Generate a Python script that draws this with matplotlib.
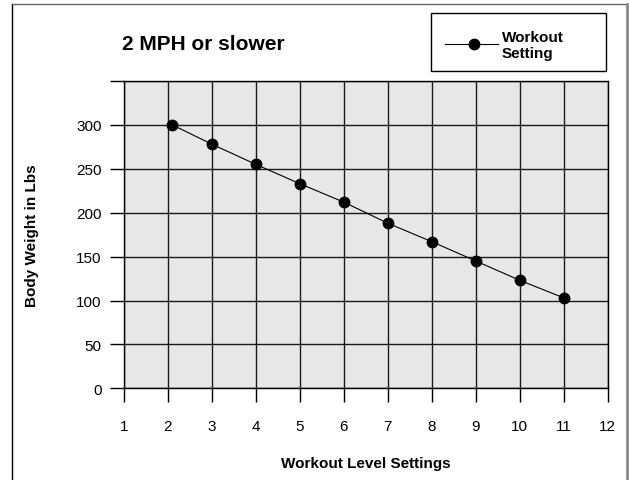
import matplotlib.pyplot as plt
from matplotlib.lines import Line2D
from matplotlib.patches import Rectangle

plt.rcParams['font.family'] = ['Liberation Sans', 'DejaVu Sans']

levels = [2.1, 3, 4, 5, 6, 7, 8, 9, 10, 11]
weights = [300, 278, 255, 233, 212, 188, 167, 145, 123, 103]
x_ticks = list(range(1, 13))
y_ticks = [0, 50, 100, 150, 200, 250, 300, 350]
y_labels = ['0', '50', '100', '150', '200', '250', '300', '']

W, H = 629, 481
fig = plt.figure(figsize=(W / 100, H / 100), dpi=100)
ax = fig.add_axes([124 / W, 1 - 389.3 / H, (607.7 - 124) / W, (389.3 - 82) / H])
ax.set_facecolor('#e6e7e8')

ax.plot(levels, weights, color='black', lw=0.8, marker='o', markersize=7.5, zorder=3)

ax.set_xlim(1, 12)
ax.set_ylim(0, 350)
ax.set_xticks(x_ticks)
ax.set_yticks(y_ticks)
ax.set_yticklabels(y_labels)
ax.grid(True, color='#1a1a1a', lw=1)
ax.set_axisbelow(True)
ax.tick_params(axis='y', length=10, width=1, pad=6, labelsize=11, direction='out')
ax.tick_params(axis='x', length=10, width=1, pad=12, labelsize=11, direction='out')
for s in ax.spines.values():
    s.set_color('black')
    s.set_linewidth(1)

ax.set_xlabel('Workout Level Settings', fontweight='bold', fontsize=11, labelpad=17)
ax.set_ylabel('Body Weight in Lbs', fontweight='bold', fontsize=11, labelpad=27)

# title
fig.text(122 / W, 1 - 45 / H, '2 MPH or slower', fontsize=15, fontweight='bold',
         ha='left', va='center')

# legend box
fig.add_artist(Rectangle((431 / W, 1 - 72 / H), (606 - 431) / W, (72 - 14) / H,
                         transform=fig.transFigure, fill=False, ec='black', lw=1))
fig.add_artist(Line2D([445 / W, 498 / W], [1 - 45 / H, 1 - 45 / H], color='black', lw=0.8,
                      transform=fig.transFigure))
fig.add_artist(Line2D([474 / W], [1 - 45 / H], marker='o', markersize=7.5, color='black',
                      transform=fig.transFigure))
fig.text(502 / W, 1 - 46 / H, 'Workout\nSetting', fontsize=11, fontweight='bold',
         ha='left', va='center', linespacing=1.25)

# outer frame
fig.add_artist(Line2D([12 / W, 12 / W], [0, 1 - 5 / H], color='black', lw=1,
                      transform=fig.transFigure))
fig.add_artist(Line2D([12 / W, 627 / W], [1 - 5 / H, 1 - 5 / H], color='#666666', lw=1,
                      transform=fig.transFigure))
fig.add_artist(Line2D([627 / W, 627 / W], [0, 1 - 5 / H], color='#888888', lw=2,
                      transform=fig.transFigure))

fig.savefig('out.png', dpi=100)
